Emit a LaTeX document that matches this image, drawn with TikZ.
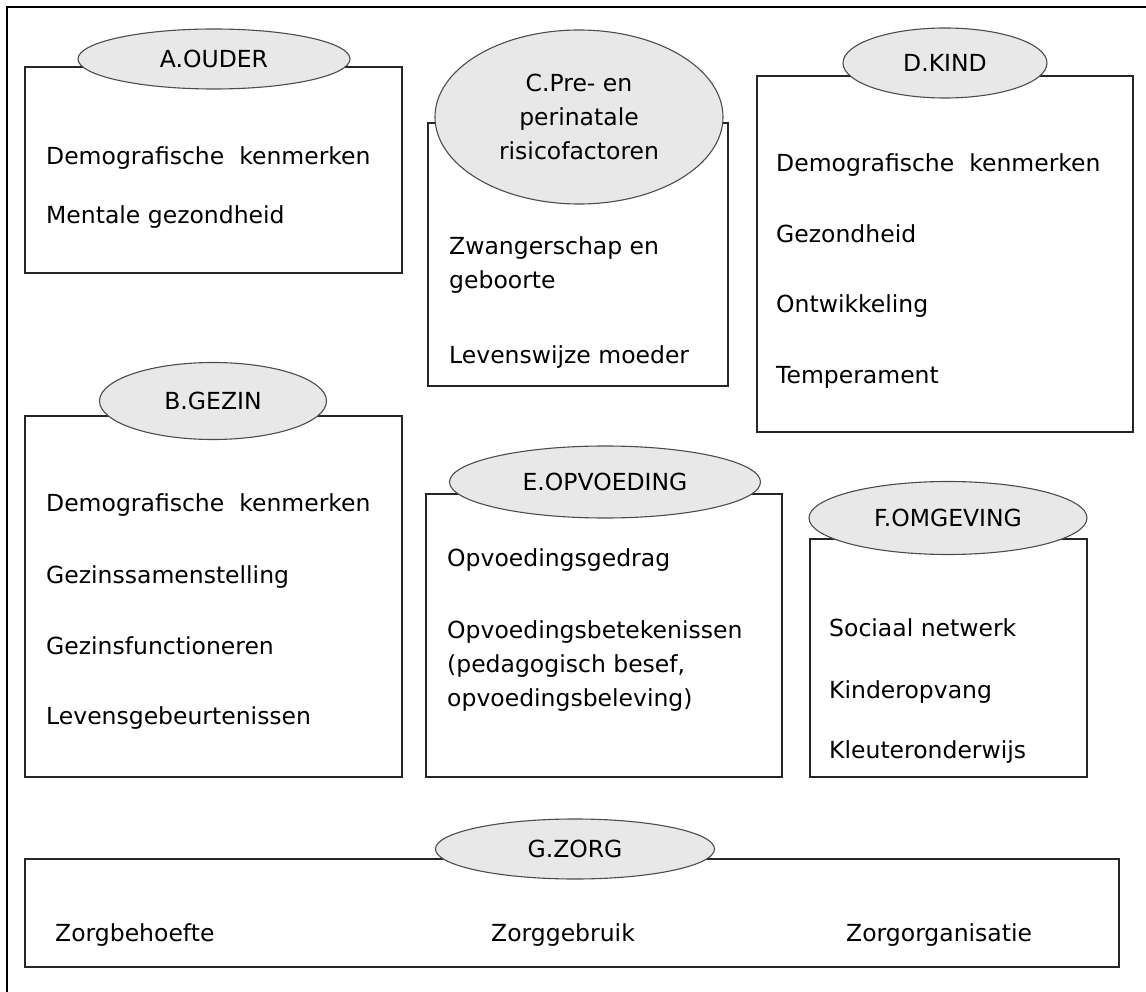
\documentclass[tikz,border=0pt]{standalone}
\usepackage{fontspec}
\setmainfont{DejaVu Sans}
\usetikzlibrary{shapes.geometric}
\tikzset{
	vak/.style={draw=black!85, line width=1.3pt},
	ovaal/.style={ellipse, draw=black!70, fill=black!9, line width=1.1pt, inner sep=0pt, align=center},
	item/.style={anchor=base west, inner sep=0pt, align=left}
}

\begin{document}
\begin{tikzpicture}[x=1pt, y=-1pt, font=\fontsize{23.5}{34}\selectfont]
			%%%%% START %%%%%
			\useasboundingbox (0, 0) rectangle (1146, 992);
			
			\draw[line width=1.5pt] (7, 992) -- (7, 7) -- (1146, 7);
			
			\draw[vak] (25, 67) rectangle (402, 273);
			\draw[vak] (428, 123) rectangle (728, 386);
			\draw[vak] (757, 76) rectangle (1133, 432);
			\draw[vak] (25, 416) rectangle (402, 777);
			\draw[vak] (426, 494) rectangle (782, 777);
			\draw[vak] (810, 539) rectangle (1087, 777);
			\draw[vak] (25, 859) rectangle (1119, 967);
			
			\node[ovaal, minimum width=272, minimum height=60] (ouder) at (214, 59) {A.OUDER};
			\node[ovaal, minimum width=288, minimum height=174] (peri) at (579, 117) {C.Pre- en\\perinatale\\risicofactoren};
			\node[ovaal, minimum width=204, minimum height=70] (kind) at (945, 63) {D.KIND};
			\node[ovaal, minimum width=227, minimum height=77] (gezin) at (213, 401) {B.GEZIN};
			\node[ovaal, minimum width=311, minimum height=72] (opvoeding) at (605, 482) {E.OPVOEDING};
			\node[ovaal, minimum width=278, minimum height=73] (omgeving) at (948, 518) {F.OMGEVING};
			\node[ovaal, minimum width=279, minimum height=60] (zorg) at (575, 849) {G.ZORG};
			
			\node[item] (ouder1) at (46, 165) {Demografische\ \ kenmerken};
			\node[item] (ouder2) at (46, 224) {Mentale gezondheid};
			
			% meerdere regels: base = laatste regel
			\node[item] (peri1) at (449, 289) {Zwangerschap en\\geboorte};
			\node[item] (peri2) at (449, 363) {Levenswijze moeder};
			
			\node[item] (kind1) at (776, 172) {Demografische\ \ kenmerken};
			\node[item] (kind2) at (776, 243) {Gezondheid};
			\node[item] (kind3) at (776, 313) {Ontwikkeling};
			\node[item] (kind4) at (776, 383) {Temperament};
			
			\node[item] (gezin1) at (46, 511) {Demografische\ \ kenmerken};
			\node[item] (gezin2) at (46, 583) {Gezinssamenstelling};
			\node[item] (gezin3) at (46, 654) {Gezinsfunctioneren};
			\node[item] (gezin4) at (46, 724) {Levensgebeurtenissen};
			
			\node[item] (opv1) at (447, 566) {Opvoedingsgedrag};
			\node[item] (opv2) at (447, 706) {Opvoedingsbetekenissen\\(pedagogisch besef,\\opvoedingsbeleving)};
			
			\node[item] (omg1) at (829, 636) {Sociaal netwerk};
			\node[item] (omg2) at (829, 698) {Kinderopvang};
			\node[item] (omg3) at (829, 758) {Kleuteronderwijs};
			
			\node[item] (zorg1) at (55, 941) {Zorgbehoefte};
			\node[item] (zorg2) at (491, 941) {Zorggebruik};
			\node[item] (zorg3) at (846, 941) {Zorgorganisatie};
			%%%%% END %%%%%
		\end{tikzpicture}
\end{document}
